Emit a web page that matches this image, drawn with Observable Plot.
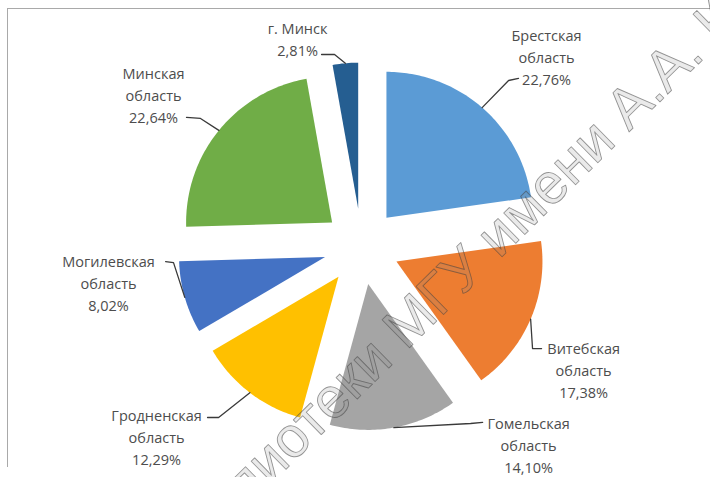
<!DOCTYPE html>
<html>
<head>
<meta charset="utf-8">
<script src="https://cdn.jsdelivr.net/npm/d3@7"></script>
<script src="https://cdn.jsdelivr.net/npm/@observablehq/plot@0.6"></script>
<style>
  html, body { margin: 0; padding: 0; background: #fff; }
  #wrap { position: relative; width: 710px; height: 477px; overflow: hidden; }
  #frame { position: absolute; left: 7px; top: 8px; width: 800px; height: 458px;
           border-top: 1.5px solid #a9a9a9; border-left: 1.5px solid #a9a9a9; }
  #chart { position: absolute; left: 0; top: 0; }
</style>
</head>
<body>
<div id="wrap"><div id="frame"></div><div id="chart"></div></div>
<script>
// ---- data (clockwise from 12 o'clock) ----
const regions = ["Брестская область", "Витебская область", "Гомельская область",
                 "Гродненская область", "Могилевская область", "Минская область", "г. Минск"];
const shares = [22.76, 17.38, 14.10, 12.29, 8.02, 22.64, 2.81];
const shareLabels = ["22,76%", "17,38%", "14,10%", "12,29%", "8,02%", "22,64%", "2,81%"];

// ---- style ----
const colors = ["#5B9BD5", "#ED7D31", "#A5A5A5", "#FFC000", "#4472C4", "#70AD47", "#255E91"];
const explode = 0.26;   // slice offset, in radii

// ---- layout (pie units: radius = 1, centre = 0,0, y up) ----
const labelPos = [[1.267, 1.305], [1.521, -0.836], [1.144, -1.35], [-1.404, -1.295],
                  [-1.733, -0.240], [-1.425, 1.048], [-0.438, 1.428]];
const leaderElbow = [[1.007, 1.137], [1.171, -0.699], [0.747, -1.212], [-0.979, -1.171],
                     [-1.288, -0.110], [-1.103, 0.877], [-0.185, 1.315]];
const leaderEnd = [[1.075, 1.151], [1.233, -0.699], [0.829, -1.205], [-1.055, -1.171],
                   [-1.342, -0.103], [-1.199, 0.884], [-0.274, 1.315]];
const watermarkAt = [-0.719, -1.548];

// ---- geometry ----
const total = d3.sum(shares);
const slices = [];
const leaders = [];
let acc = 0;
regions.forEach((name, i) => {
  const a0 = acc / total * 2 * Math.PI;
  acc += shares[i];
  const a1 = acc / total * 2 * Math.PI;
  const am = (a0 + a1) / 2;
  const ox = explode * Math.sin(am), oy = explode * Math.cos(am);
  slices.push({name, x: ox, y: oy});
  const n = Math.max(2, Math.ceil((a1 - a0) / (Math.PI / 180)));
  for (let k = 0; k <= n; k++) {
    const a = a0 + (a1 - a0) * k / n;
    slices.push({name, x: ox + Math.sin(a), y: oy + Math.cos(a)});
  }
  slices.push({name, x: ox, y: oy});
  leaders.push({name, x: (1 + explode) * Math.sin(am), y: (1 + explode) * Math.cos(am)});
  leaders.push({name, x: leaderElbow[i][0], y: leaderElbow[i][1]});
  leaders.push({name, x: leaderEnd[i][0], y: leaderEnd[i][1]});
});

const labels = regions.map((name, i) => ({
  name,
  x: labelPos[i][0], y: labelPos[i][1],
  text: (name.startsWith("г.") ? name : name.replace(" ", "\n")) + "\n" + shareLabels[i]
}));

const wmStyle = {x: "x", y: "y", text: "t", rotate: -44.5, fontSize: 57, lineAnchor: "middle",
                 fontFamily: "'Liberation Sans', Arial, sans-serif",
                 fill: "#8a8a8a", fillOpacity: 0.18, stroke: "#3c3c3c", strokeOpacity: 0.55, strokeWidth: 0.9};

const plot = Plot.plot({
  width: 710,
  height: 477,
  margin: 0,
  x: {domain: [-2.473, 2.390], axis: null},
  y: {domain: [-1.582, 1.685], axis: null},
  color: {domain: regions, range: colors},
  style: {background: "transparent", fontFamily: "'Open Sans', sans-serif"},
  marks: [
    Plot.line(slices, {x: "x", y: "y", z: "name", fill: "name", stroke: null, curve: "linear"}),
    Plot.line(leaders, {x: "x", y: "y", z: "name", stroke: "#3a3a3a", strokeWidth: 1.3, curve: "linear"}),
    Plot.text(labels, {x: "x", y: "y", text: "text", fontSize: 14.5, lineHeight: 1.52,
                       fill: "#4d4d4d", textAnchor: "middle", lineAnchor: "middle"}),
    Plot.text([{x: watermarkAt[0], y: watermarkAt[1], t: "иотеки МГУ имени А.А. Кулешова"}],
              {...wmStyle, textAnchor: "start"}),
    Plot.text([{x: watermarkAt[0], y: watermarkAt[1], t: "Библ"}],
              {...wmStyle, textAnchor: "end"})
  ]
});
document.getElementById("chart").appendChild(plot);
</script>
</body>
</html>
